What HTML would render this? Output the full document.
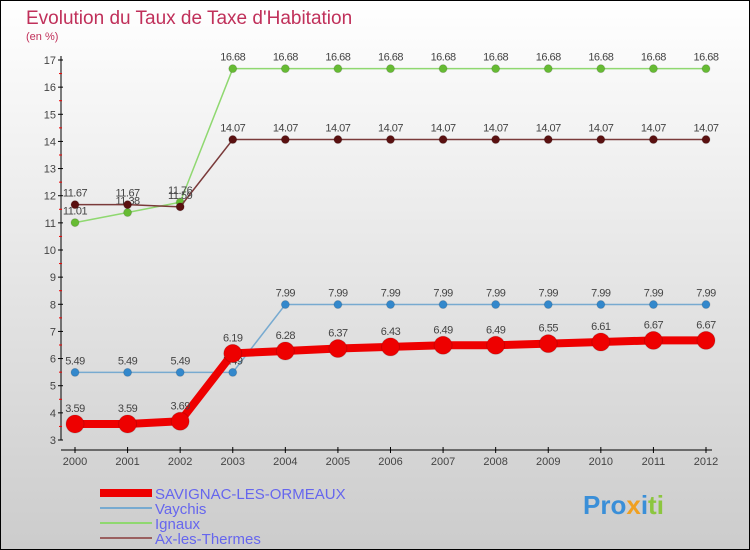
<!DOCTYPE html>
<html><head><meta charset="utf-8"><style>
body{margin:0}
#c{width:750px;height:550px;position:relative;box-sizing:border-box;border:1px solid #000;background:linear-gradient(#fff,#ccc);font-family:"Liberation Sans",sans-serif;overflow:hidden}
</style></head><body>
<div id="c">
<svg id="s" width="750" height="550" style="position:absolute;left:-1px;top:-1px">
<text x="26" y="24" font-size="19" fill="#c0305a">Evolution du Taux de Taxe d'Habitation</text>
<text x="26" y="40" font-size="11" fill="#c0305a">(en %)</text>
<g id="ax"></g><g id="ser"></g><g id="leg"></g>
<text x="583" y="514" font-size="26" font-weight="bold" fill="#3a8fd8">Pro<tspan fill="#f0a020">x</tspan><tspan fill="#3a8fd8">i</tspan><tspan fill="#8cc63f">ti</tspan></text>
</svg></div>
<script>
const years=[2000,2001,2002,2003,2004,2005,2006,2007,2008,2009,2010,2011,2012];
const savignac=[3.59,3.59,3.69,6.19,6.28,6.37,6.43,6.49,6.49,6.55,6.61,6.67,6.67];
const vaychis=[5.49,5.49,5.49,5.49,7.99,7.99,7.99,7.99,7.99,7.99,7.99,7.99,7.99];
const ignaux=[11.01,11.38,11.76,16.68,16.68,16.68,16.68,16.68,16.68,16.68,16.68,16.68,16.68];
const ax=[11.67,11.67,11.59,14.07,14.07,14.07,14.07,14.07,14.07,14.07,14.07,14.07,14.07];
const yTicks=[3,4,5,6,7,8,9,10,11,12,13,14,15,16,17];
const names=["SAVIGNAC-LES-ORMEAUX","Vaychis","Ignaux","Ax-les-Thermes"];
const NS="http://www.w3.org/2000/svg";
const X=i=>75+i*(706-75)/(years.length-1);
const Y=v=>440-(v-3)*380/14;
function mk(t,a,p){const e=document.createElementNS(NS,t);for(const k in a)e.setAttribute(k,a[k]);p.appendChild(e);return e;}
const gA=document.getElementById('ax');
let l=mk('line',{x1:61,y1:56,x2:61,y2:440,stroke:'#000'},gA);

l=mk('line',{x1:61,y1:450,x2:712,y2:450,stroke:'#000'},gA);

yTicks.forEach(v=>{mk('line',{x1:58,x2:63,y1:Y(v),y2:Y(v),stroke:'#000'},gA);
 if(v<17)mk('line',{x1:59,x2:62,y1:Y(v+0.5),y2:Y(v+0.5),stroke:'#e00'},gA);
 const t=mk('text',{x:56,y:Y(v)+4,'font-size':11,'text-anchor':'end',fill:'#444'},gA);t.textContent=v;
 });
years.forEach((y,i)=>{mk('line',{x1:X(i),x2:X(i),y1:447,y2:453,stroke:'#000'},gA);
 const t=mk('text',{x:X(i),y:465,'font-size':11,'text-anchor':'middle',fill:'#444'},gA);t.textContent=y;
 });
const gS=document.getElementById('ser');
const series=[[ignaux,'#8fd870','#66bb33',1.5,4,'ignaux'],[ax,'#7a3a3a','#5a1010',1.5,4,'ax-les-thermes'],[vaychis,'#77aad0','#3388cc',1.5,4,'vaychis'],[savignac,'#ee0000','#ee0000',8,9,'savignac']];
series.forEach(([d,lc,pc,w,r,n])=>{
 const g=mk('g',{},gS);
 mk('polyline',{points:d.map((v,i)=>X(i)+','+Y(v)).join(' '),fill:'none',stroke:lc,'stroke-width':w},g);
 d.forEach((v,i)=>{const c=mk('circle',{cx:X(i),cy:Y(v),r:r,fill:pc,stroke:'#0002'},g);
  
  const t=mk('text',{x:X(i),y:Y(v)-(n=='savignac'?12:8),'font-size':11,'text-anchor':'middle',fill:'#444','letter-spacing':'-0.5'},g);t.textContent=v.toFixed(2);
  });
});
const gL=document.getElementById('leg');
const lc=[['#ee0000',8],['#77aad0',2],['#8fd870',2],['#9a6060',2]];
names.forEach((n,i)=>{const y=493+i*15;
 mk('line',{x1:100,x2:152,y1:y,y2:y,stroke:lc[i][0],'stroke-width':lc[i][1]},gL);
 const t=mk('text',{x:155,y:y+6,'font-size':15,fill:'#6666ee'},gL);t.textContent=n;
 });
</script></body></html>
